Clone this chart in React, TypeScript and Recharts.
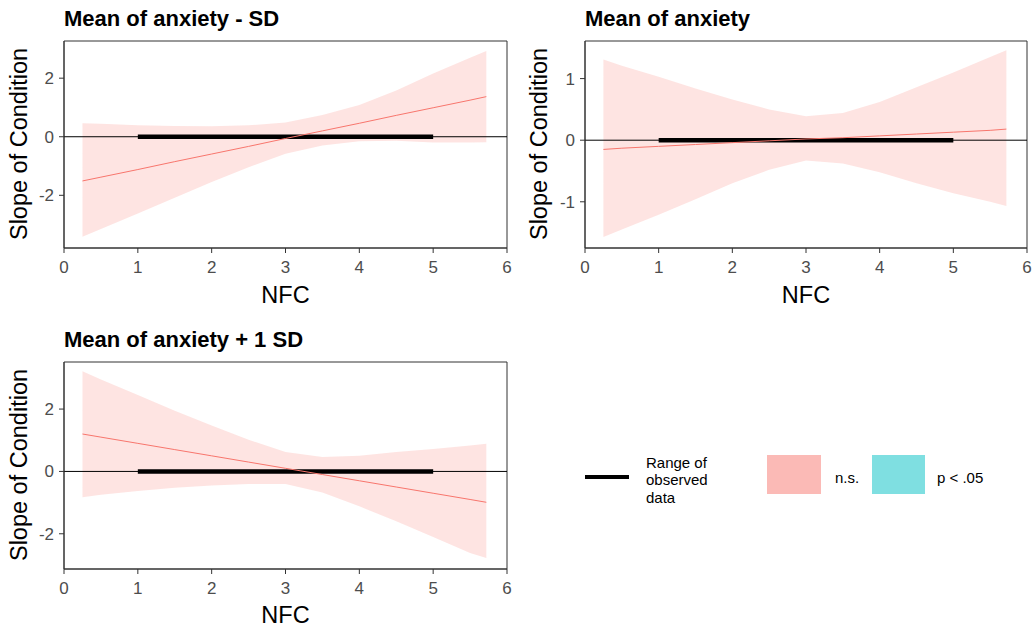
import React from 'react';
import { ComposedChart, Area, Line, XAxis, YAxis, ReferenceLine, ReferenceArea } from 'recharts';

// NFC sample positions
const nfc = [0.25, 0.5, 1, 1.5, 2, 2.5, 3, 3.5, 4, 4.5, 5, 5.5, 5.72];

// Panel 1: Mean of anxiety - SD
const lowMid = [-1.51, -1.38, -1.12, -0.85, -0.59, -0.33, -0.06, 0.2, 0.46, 0.73, 0.99, 1.25, 1.37];
const lowUpper = [0.46, 0.44, 0.39, 0.37, 0.36, 0.39, 0.49, 0.74, 1.08, 1.58, 2.16, 2.7, 2.93];
const lowLower = [-3.42, -3.15, -2.62, -2.08, -1.55, -1.04, -0.58, -0.3, -0.15, -0.14, -0.2, -0.2, -0.19];

// Panel 2: Mean of anxiety
const meanMid = [-0.15, -0.13, -0.1, -0.07, -0.04, -0.01, 0.02, 0.04, 0.07, 0.1, 0.13, 0.16, 0.18];
const meanUpper = [1.31, 1.21, 1.03, 0.84, 0.66, 0.5, 0.39, 0.44, 0.62, 0.86, 1.1, 1.35, 1.46];
const meanLower = [-1.57, -1.45, -1.21, -0.96, -0.7, -0.48, -0.33, -0.38, -0.52, -0.7, -0.86, -1.0, -1.07];

// Panel 3: Mean of anxiety + 1 SD
const highMid = [1.2, 1.1, 0.9, 0.7, 0.5, 0.3, 0.1, -0.1, -0.3, -0.5, -0.7, -0.9, -0.99];
const highUpper = [3.21, 2.95, 2.45, 1.95, 1.47, 1.02, 0.62, 0.46, 0.5, 0.62, 0.72, 0.83, 0.89];
const highLower = [-0.83, -0.75, -0.63, -0.52, -0.45, -0.4, -0.4, -0.68, -1.12, -1.6, -2.1, -2.62, -2.78];

const xTicks = [0, 1, 2, 3, 4, 5, 6];
const observedRange = [1, 5];

const titles = ['Mean of anxiety - SD', 'Mean of anxiety', 'Mean of anxiety + 1 SD'];
const xLabel = 'NFC';
const yLabel = 'Slope of Condition';
const legendRangeLines = ['Range of', 'observed', 'data'];
const legendNs = 'n.s.';
const legendSig = 'p < .05';

const FONT = '"Liberation Sans", Arial, sans-serif';
const LINE = '#F8766D';
const TICK_FS = 17;

function build(mid: number[], up: number[], lo: number[]) {
  return nfc.map((x, i) => ({ x, mid: mid[i], band: [lo[i], up[i]] as [number, number] }));
}

function XTick(props: any) {
  const { x, y, payload } = props;
  return (
    <text x={x} y={y + 18} textAnchor="middle" fontSize={TICK_FS} fill="#4D4D4D" fontFamily={FONT}>
      {payload.value}
    </text>
  );
}

function YTick(props: any) {
  const { x, y, payload } = props;
  return (
    <text x={x} y={y + 6} textAnchor="end" fontSize={TICK_FS} fill="#4D4D4D" fontFamily={FONT}>
      {payload.value}
    </text>
  );
}

type PanelProps = {
  mid: number[];
  up: number[];
  lo: number[];
  yDomain: [number, number];
  yTicks: number[];
  left: number;
  top: number;
  width: number;
  height: number;
  plotLeft: number;
  plotTop: number;
  plotRight: number;
  plotBottom: number;
};

function Panel(p: PanelProps) {
  const data = build(p.mid, p.up, p.lo);
  return (
    <div style={{ position: 'absolute', left: p.left, top: p.top, width: p.width, height: p.height }}>
      <ComposedChart
        width={p.width}
        height={p.height}
        data={data}
        margin={{ top: p.plotTop, right: p.width - p.plotRight, bottom: 0, left: 0 }}
      >
        <XAxis
          dataKey="x"
          type="number"
          domain={[0, 6]}
          ticks={xTicks}
          allowDataOverflow
          height={p.height - p.plotBottom}
          tickSize={5}
          tickMargin={2}
          tick={<XTick />}
          stroke="#333333"
          tickLine={{ stroke: '#333333' }}
          axisLine={{ stroke: '#333333' }}
        />
        <YAxis
          type="number"
          domain={p.yDomain}
          ticks={p.yTicks}
          allowDataOverflow
          width={p.plotLeft}
          tickSize={5}
          tickMargin={5}
          tick={<YTick />}
          stroke="#333333"
          tickLine={{ stroke: '#333333' }}
          axisLine={{ stroke: '#333333' }}
        />
        <Area
          dataKey="band"
          type="linear"
          stroke="none"
          fill={LINE}
          fillOpacity={0.2}
          isAnimationActive={false}
          activeDot={false}
        />
        <ReferenceLine y={0} stroke="#000000" strokeWidth={1} />
        <ReferenceLine
          segment={[
            { x: observedRange[0], y: 0 },
            { x: observedRange[1], y: 0 },
          ]}
          stroke="#000000"
          strokeWidth={4.5}
        />
        <Line
          dataKey="mid"
          type="linear"
          stroke={LINE}
          strokeWidth={1}
          dot={false}
          activeDot={false}
          isAnimationActive={false}
        />
        <ReferenceArea
          x1={0}
          x2={6}
          y1={p.yDomain[0]}
          y2={p.yDomain[1]}
          fill="none"
          fillOpacity={0}
          stroke="#333333"
          strokeWidth={1}
        />
      </ComposedChart>
    </div>
  );
}

export default function App() {
  return (
    <div style={{ position: 'absolute', left: 0, top: 0, width: 1034, height: 630, background: '#ffffff', fontFamily: FONT }}>
      <Panel
        mid={lowMid}
        up={lowUpper}
        lo={lowLower}
        yDomain={[-3.8, 3.27]}
        yTicks={[-2, 0, 2]}
        left={0}
        top={0}
        width={520}
        height={315}
        plotLeft={64}
        plotTop={41}
        plotRight={507}
        plotBottom={248}
      />
      <Panel
        mid={meanMid}
        up={meanUpper}
        lo={meanLower}
        yDomain={[-1.75, 1.61]}
        yTicks={[-1, 0, 1]}
        left={520}
        top={0}
        width={514}
        height={315}
        plotLeft={65}
        plotTop={41}
        plotRight={507}
        plotBottom={248}
      />
      <Panel
        mid={highMid}
        up={highUpper}
        lo={highLower}
        yDomain={[-3.13, 3.51]}
        yTicks={[-2, 0, 2]}
        left={0}
        top={320}
        width={520}
        height={310}
        plotLeft={64}
        plotTop={42}
        plotRight={507}
        plotBottom={249}
      />
      <svg width={1034} height={630} style={{ position: 'absolute', left: 0, top: 0, pointerEvents: 'none' }}>
        <g fontFamily={FONT}>
          <text x={64} y={26} fontSize={22} fontWeight="bold" fill="#000">{titles[0]}</text>
          <text x={585} y={26} fontSize={22} fontWeight="bold" fill="#000">{titles[1]}</text>
          <text x={64} y={347} fontSize={22} fontWeight="bold" fill="#000">{titles[2]}</text>

          <text x={285.5} y={303} fontSize={23.5} textAnchor="middle" fill="#000">{xLabel}</text>
          <text x={806} y={303} fontSize={23.5} textAnchor="middle" fill="#000">{xLabel}</text>
          <text x={285.5} y={623} fontSize={23.5} textAnchor="middle" fill="#000">{xLabel}</text>

          <text transform="translate(27,144) rotate(-90)" fontSize={23.5} textAnchor="middle" fill="#000">{yLabel}</text>
          <text transform="translate(547,144) rotate(-90)" fontSize={23.5} textAnchor="middle" fill="#000">{yLabel}</text>
          <text transform="translate(27,465) rotate(-90)" fontSize={23.5} textAnchor="middle" fill="#000">{yLabel}</text>

          <line x1={585} x2={629} y1={477} y2={477} stroke="#000" strokeWidth={4} />
          {legendRangeLines.map((t, i) => (
            <text key={t} x={646} y={468 + i * 17.3} fontSize={15} fill="#000">{t}</text>
          ))}
          <rect x={767} y={455} width={54} height={39} fill={LINE} fillOpacity={0.5} />
          <text x={835} y={483} fontSize={15} fill="#000">{legendNs}</text>
          <rect x={872} y={455} width={53} height={39} fill="#00BFC4" fillOpacity={0.5} />
          <text x={937} y={483} fontSize={15} fill="#000">{legendSig}</text>
        </g>
      </svg>
    </div>
  );
}
